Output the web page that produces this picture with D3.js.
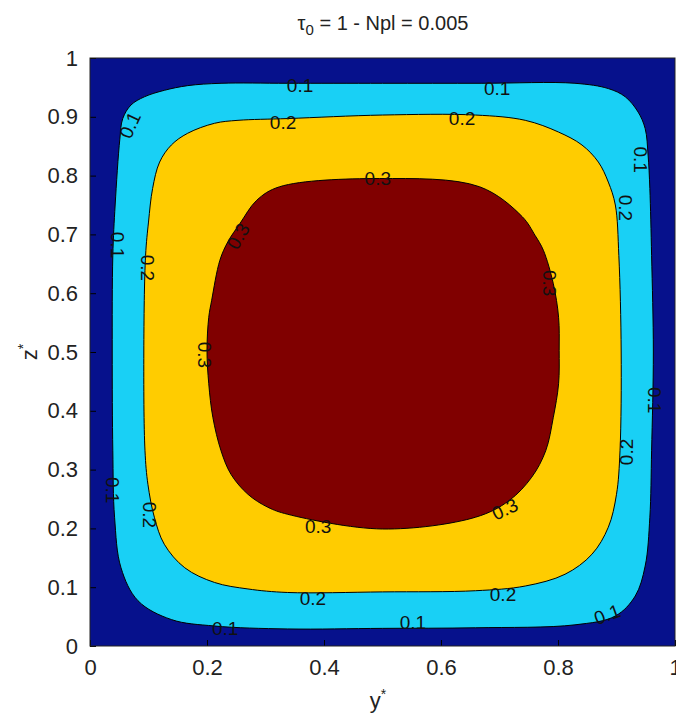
<!DOCTYPE html>
<html>
<head>
<meta charset="utf-8">
<script src="https://cdn.jsdelivr.net/npm/d3@7"></script>
<style>
  body { margin: 0; background: #fff; }
  svg { display: block; font-family: "Liberation Sans", Arial, sans-serif; }
</style>
</head>
<body>
<svg width="676" height="717"></svg>
<script>
// contour levels and fill colours (jet, 4 bands)
var levels = [0.1, 0.2, 0.3];
var bandColors = ["#06118c", "#19d0f5", "#ffcc00", "#800000"];

var xTicks = [0, 0.2, 0.4, 0.6, 0.8, 1];
var yTicks = [0, 0.1, 0.2, 0.3, 0.4, 0.5, 0.6, 0.7, 0.8, 0.9, 1];

// contour outlines, [y*, z*]
var contour01 = [
  [0.5,0.957],[0.67,0.957],[0.829,0.957],[0.886,0.948],[0.915,0.934],[0.937,0.908],
  [0.949,0.880],[0.954,0.835],[0.957,0.778],[0.960,0.664],[0.963,0.5],[0.960,0.332],
  [0.957,0.219],[0.949,0.136],[0.932,0.085],[0.898,0.051],[0.829,0.036],[0.659,0.031],
  [0.5,0.030],[0.338,0.029],[0.213,0.034],[0.139,0.045],[0.082,0.077],[0.053,0.133],
  [0.042,0.219],[0.039,0.332],[0.038,0.5],[0.039,0.664],[0.043,0.75],[0.051,0.862],
  [0.056,0.897],[0.070,0.920],[0.093,0.934],[0.127,0.945],[0.167,0.953],[0.224,0.957],
  [0.338,0.957]
];
var contour02 = [
  [0.5,0.903],[0.659,0.903],[0.744,0.894],[0.801,0.874],[0.841,0.852],[0.869,0.823],
  [0.886,0.789],[0.898,0.75],[0.904,0.664],[0.908,0.5],[0.906,0.332],[0.9,0.258],
  [0.886,0.202],[0.858,0.156],[0.812,0.122],[0.744,0.102],[0.659,0.094],[0.5,0.092],
  [0.338,0.091],[0.27,0.097],[0.213,0.108],[0.162,0.133],[0.127,0.173],[0.11,0.219],
  [0.099,0.275],[0.094,0.332],[0.092,0.5],[0.095,0.664],[0.100,0.721],[0.107,0.778],
  [0.119,0.823],[0.139,0.852],[0.167,0.872],[0.213,0.889],[0.253,0.894],[0.338,0.897]
];
var contour03 = [
  [0.495,0.795],[0.666,0.781],[0.739,0.730],[0.761,0.698],[0.775,0.673],[0.792,0.616],
  [0.801,0.559],[0.802,0.503],[0.801,0.446],[0.792,0.389],[0.779,0.332],[0.755,0.287],
  [0.716,0.247],[0.659,0.219],[0.5,0.199],[0.338,0.224],[0.304,0.236],[0.27,0.258],
  [0.241,0.292],[0.224,0.332],[0.21,0.389],[0.203,0.446],[0.2,0.503],[0.203,0.559],
  [0.208,0.588],[0.222,0.656],[0.236,0.688],[0.256,0.718],[0.285,0.758],[0.324,0.781]
];
var contours = [contour01, contour02, contour03];

// clabel texts: value, y*, z*, angle
var labelText  = ["0.1","0.1","0.1","0.1","0.1","0.1","0.1","0.1","0.1","0.1",
                  "0.2","0.2","0.2","0.2","0.2","0.2","0.2","0.2",
                  "0.3","0.3","0.3","0.3","0.3","0.3"];
var labelY     = [0.359,0.696,0.068,0.048,0.942,0.966,0.039,0.231,0.552,0.884,
                  0.330,0.636,0.916,0.099,0.916,0.103,0.381,0.706,
                  0.492,0.253,0.786,0.197,0.390,0.709];
var labelZ     = [0.954,0.949,0.886,0.682,0.827,0.418,0.265,0.031,0.041,0.054,
                  0.891,0.898,0.745,0.643,0.330,0.223,0.082,0.088,
                  0.796,0.697,0.617,0.495,0.203,0.233];
var labelAngle = [0,0,-65,90,90,90,90,0,0,-20,
                  0,0,90,90,-90,90,0,0,
                  0,-60,90,90,0,-25];

var svg = d3.select("svg");
var margin = {left: 90, top: 58},
    w = 585, h = 588;

var x = d3.scaleLinear().domain([0, 1]).range([margin.left, margin.left + w]);
var y = d3.scaleLinear().domain([0, 1]).range([margin.top + h, margin.top]);

svg.append("defs").append("clipPath").attr("id", "clip")
  .append("rect").attr("x", x(0)).attr("y", y(1)).attr("width", w).attr("height", h);

var plot = svg.append("g").attr("clip-path", "url(#clip)");

// lowest band fills the whole box
plot.append("rect")
  .attr("x", x(0)).attr("y", y(1)).attr("width", w).attr("height", h)
  .attr("fill", bandColors[0]);

var line = d3.line()
  .x(function(d) { return x(d[0]); })
  .y(function(d) { return y(d[1]); })
  .curve(d3.curveCatmullRomClosed.alpha(0.5));

plot.selectAll("path.band")
  .data(contours)
  .enter().append("path")
    .attr("class", "band")
    .attr("d", line)
    .attr("fill", function(d, i) { return bandColors[i + 1]; })
    .attr("stroke", "#000")
    .attr("stroke-width", 1);

// contour labels
plot.selectAll("text.clabel")
  .data(labelText)
  .enter().append("text")
    .attr("class", "clabel")
    .attr("transform", function(d, i) {
      return "translate(" + x(labelY[i]) + "," + y(labelZ[i]) + ") rotate(" + labelAngle[i] + ")";
    })
    .attr("text-anchor", "middle")
    .attr("dy", "0.36em")
    .attr("font-size", 19)
    .attr("fill", "#111")
    .text(function(d) { return d; });

// axes
var xAxis = d3.axisBottom(x).tickValues(xTicks).tickSizeInner(-6).tickSizeOuter(0)
  .tickPadding(13).tickFormat(d3.format("~g"));
var yAxis = d3.axisLeft(y).tickValues(yTicks).tickSizeInner(-6).tickSizeOuter(0)
  .tickPadding(12).tickFormat(d3.format("~g"));

var gx = svg.append("g").attr("transform", "translate(0," + y(0) + ")").call(xAxis);
var gy = svg.append("g").attr("transform", "translate(" + x(0) + ",0)").call(yAxis);
[gx, gy].forEach(function(g) {
  g.select(".domain").remove();
  g.selectAll("line").attr("stroke", "#000");
  g.selectAll("text").attr("font-size", 22).attr("fill", "#222")
    .attr("font-family", "Liberation Sans, Arial, sans-serif");
});

svg.append("rect")
  .attr("x", x(0)).attr("y", y(1)).attr("width", w).attr("height", h)
  .attr("fill", "none").attr("stroke", "#222").attr("stroke-width", 1);

// title
var title = svg.append("text")
  .attr("x", 383).attr("y", 30)
  .attr("text-anchor", "middle")
  .attr("font-size", 20)
  .attr("fill", "#222");
title.append("tspan").text("\u03c4");
title.append("tspan").attr("dy", 5).attr("font-size", 15).text("0");
title.append("tspan").attr("dy", -5).text(" = 1 - Npl = 0.005");

// axis labels
var xl = svg.append("text")
  .attr("x", 378).attr("y", 708)
  .attr("text-anchor", "middle").attr("font-size", 22).attr("fill", "#222");
xl.append("tspan").text("y");
xl.append("tspan").attr("dy", -9).attr("font-size", 14).text("*");

var yl = svg.append("text")
  .attr("transform", "translate(37,352) rotate(-90)")
  .attr("text-anchor", "middle").attr("font-size", 22).attr("fill", "#222");
yl.append("tspan").text("z");
yl.append("tspan").attr("dy", -9).attr("font-size", 14).text("*");
</script>
</body>
</html>
